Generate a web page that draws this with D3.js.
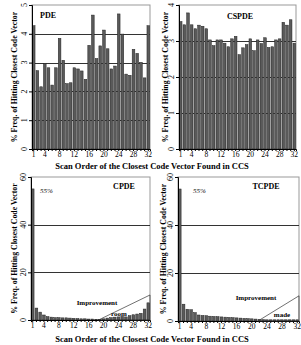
<!DOCTYPE html>
<html><head><meta charset="utf-8">
<script src="https://cdn.jsdelivr.net/npm/d3@7"></script>
<style>body{margin:0;background:#fff}svg{display:block}text{font-family:"Liberation Serif","Times New Roman",serif;fill:#000}</style>
</head><body>
<svg id="c" width="301" height="345"></svg>
<script>
const categories = d3.range(1, 33);
const tickLabels = [1, 4, 8, 12, 16, 20, 24, 28, 32];
const pdeValues = [4.28,2.72,2.16,2.97,2.82,2.22,2.82,3.84,3.08,2.27,2.30,2.82,2.78,2.71,2.42,3.60,4.65,3.14,3.58,4.13,3.48,2.78,2.88,4.69,3.99,2.60,2.56,3.46,3.32,3.01,2.47,4.28];
const cspdeValues = [3.54,3.45,3.78,3.45,3.34,3.44,3.41,3.34,3.03,2.87,3.03,3.03,2.94,2.84,3.06,3.13,2.62,2.81,2.90,3.06,2.73,3.03,2.93,3.09,2.82,2.84,3.03,3.06,3.52,3.44,3.59,2.94];
const cpdeValues = [55,5.0,3.3,2.1,1.4,1.2,1.0,1.0,0.9,0.9,0.8,0.7,0.6,0.5,0.5,0.4,0.4,0.3,0.3,0.5,0.8,1.0,1.2,1.3,1.5,1.3,1.8,2.2,2.5,2.8,4.6,7.2];
const tcpdeValues = [55,7.0,4.9,4.7,3.5,2.5,2.3,2.2,2.0,1.9,1.8,1.7,1.6,1.5,1.4,1.3,1.2,1.1,1.0,0.9,0.8,0.7,0.6,0.5,0.5,0.5,0.5,0.5,0.5,0.5,0.5,0.5];
const yTitle = "% Freq. of Hitting Closest Code Vector";
const xTitle = "Scan Order of the Closest Code Vector Found in CCS";

const svg = d3.select("#c");

const panels = [
  {name:"PDE", values:pdeValues, x0:32, x1:150, y0:149, y1:5, max:5, ticks:[0,1,2,3,4,5], grid:[1,2,3,4], nameX:48, nameY:18, titleX:14},
  {name:"CSPDE", values:cspdeValues, x0:179, x1:296, y0:149, y1:5, max:4, ticks:[0,1,2,3,4], grid:[1,2,3], nameX:240, nameY:19, titleX:165},
  {name:"CPDE", values:cpdeValues, x0:31, x1:150, y0:320, y1:177, max:60, ticks:[0,20,40,60], grid:[20,40], nameX:124, nameY:189, titleX:14, pct:[40,193], impr:["Improvement",97,305], impr2:["room",119,316], tri:[19,10.5]},
  {name:"TCPDE", values:tcpdeValues, x0:178, x1:299, y0:321, y1:177, max:60, ticks:[0,20,40,60], grid:[20,40], nameX:266, nameY:189, titleX:163, pct:[193,193], impr:["Improvement",256,300], impr2:["made",282,317], tri:[22,10.5]}
];

panels.forEach(p => {
  const g = svg.append("g");
  const x = d3.scaleBand().domain(categories).range([p.x0, p.x1]).paddingInner(0.28).paddingOuter(0.1);
  const y = d3.scaleLinear().domain([0, p.max]).range([p.y0, p.y1]);
  g.append("rect").attr("x", p.x0).attr("y", p.y1).attr("width", p.x1 - p.x0).attr("height", p.y0 - p.y1)
    .attr("fill", "none").attr("stroke", "#999").attr("stroke-width", 1);
  g.selectAll(".grid").data(p.grid).enter().append("line")
    .attr("x1", p.x0).attr("x2", p.x1).attr("y1", d => Math.round(y(d)) + 0.5).attr("y2", d => Math.round(y(d)) + 0.5)
    .attr("stroke", "#333").attr("stroke-width", 1);
  g.selectAll(".bar").data(p.values).enter().append("rect")
    .attr("x", (d, i) => x(categories[i]))
    .attr("width", x.bandwidth())
    .attr("y", d => y(d))
    .attr("height", d => p.y0 - y(d))
    .attr("fill", "#5a5a5a").attr("stroke", "#222").attr("stroke-width", 0.5);
  const ya = d3.axisLeft(y).tickValues(p.ticks).tickSize(3).tickFormat("");
  const yg = g.append("g").attr("transform", `translate(${p.x0},0)`).call(ya);
  yg.select(".domain").attr("stroke", "#000");
  g.selectAll(".ylab").data(p.ticks).enter().append("text")
    .attr("transform", d => `translate(${p.x0 - 5},${y(d)}) rotate(-90)`)
    .attr("text-anchor", "middle").attr("font-size", 8).attr("fill", "#000").text(d => String(d));
  const xa = d3.axisBottom(x).tickSize(2).tickPadding(1).tickFormat(d => tickLabels.includes(d) ? d : "");
  const xg = g.append("g").attr("transform", `translate(0,${p.y0})`).call(xa);
  xg.select(".domain").attr("stroke", "#000");
  xg.selectAll("text").attr("font-size", 7.5).attr("fill", "#000");
  g.append("text").attr("transform", `translate(${p.titleX},${(p.y0 + p.y1) / 2}) rotate(-90)`)
    .attr("text-anchor", "middle").attr("dy", "0.35em").attr("font-size", 7.8).attr("font-weight", "bold").text(yTitle);
  g.append("text").attr("x", p.nameX).attr("y", p.nameY).attr("text-anchor", "middle")
    .attr("font-size", 8).attr("font-weight", "bold").text(p.name);
  if (p.pct) {
    g.append("text").attr("x", p.pct[0]).attr("y", p.pct[1]).attr("font-size", 7).attr("font-style", "italic").text("55%");
    g.append("text").attr("x", p.impr[1]).attr("y", p.impr[2]).attr("text-anchor", "middle").attr("font-size", 7).attr("font-weight", "bold").text(p.impr[0]);
    g.append("text").attr("x", p.impr2[1]).attr("y", p.impr2[2]).attr("text-anchor", "middle").attr("font-size", 7).attr("font-weight", "bold").text(p.impr2[0]);
    const xs = x(p.tri[0]);
    g.append("path").attr("d", `M${xs},${p.y0}L${p.x1},${y(p.tri[1])}L${p.x1},${p.y0}Z`)
      .attr("fill", "none").attr("stroke", "#333").attr("stroke-width", 0.7);
  }
});

svg.append("text").attr("x", 152).attr("y", 169).attr("text-anchor", "middle").attr("font-size", 8.5).attr("font-weight", "bold").text(xTitle);
svg.append("text").attr("x", 152).attr("y", 342).attr("text-anchor", "middle").attr("font-size", 8.5).attr("font-weight", "bold").text(xTitle);
</script>
</body></html>
